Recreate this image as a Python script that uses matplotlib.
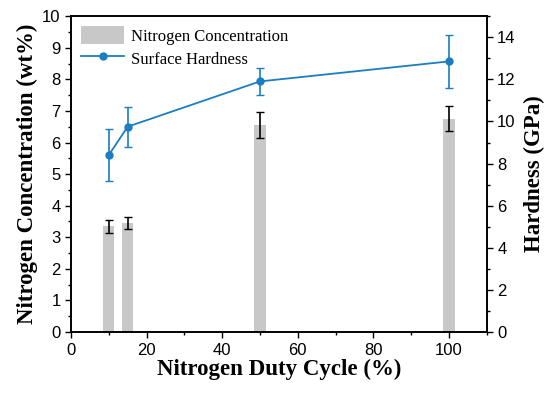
import matplotlib.pyplot as plt
from matplotlib.ticker import MultipleLocator
from matplotlib.lines import Line2D

duty = [10, 15, 50, 100]
conc = [3.35, 3.45, 6.55, 6.75]
conc_err = [0.2, 0.2, 0.4, 0.4]
hard = [8.4, 9.75, 11.9, 12.85]
hard_err = [1.25, 0.95, 0.65, 1.25]

serif = 'Liberation Serif'
sans = 'Liberation Sans'
blue = '#1a7ec0'

fig = plt.figure(figsize=(5.5, 3.93), dpi=100)
ax = fig.add_axes([0.129, 0.155, 0.756, 0.804])
ax.bar(duty, conc, width=3, color='#c8c8c8', label='Nitrogen Concentration', zorder=1)
ax.errorbar(duty, conc, yerr=conc_err, fmt='none', ecolor='black', capsize=3, elinewidth=1.2, zorder=2)
ax.set_xlim(0, 110)
ax.set_ylim(0, 10)
ax.xaxis.set_major_locator(MultipleLocator(20))
ax.xaxis.set_minor_locator(MultipleLocator(10))
ax.yaxis.set_major_locator(MultipleLocator(1))
ax.yaxis.set_minor_locator(MultipleLocator(0.5))
ax.set_xlabel('Nitrogen Duty Cycle (%)', fontfamily=serif, fontweight='bold', fontsize=16.5, labelpad=1)
ax.set_ylabel('Nitrogen Concentration (wt%)', fontfamily=serif, fontweight='bold', fontsize=16.5, labelpad=3)

ax2 = ax.twinx()
ax2.errorbar(duty, hard, yerr=hard_err, color=blue, marker='o', markersize=5, lw=1.3,
             capsize=3, elinewidth=1.2, zorder=3)
ax2.set_ylim(0, 15)
ax2.yaxis.set_major_locator(MultipleLocator(2))
ax2.yaxis.set_minor_locator(MultipleLocator(1))
ax2.set_ylabel('Hardness (GPa)', fontfamily=serif, fontweight='bold', fontsize=16.5, labelpad=6)

for a in (ax, ax2):
    a.tick_params(which='both', direction='out', labelsize=12, width=1)
    a.tick_params(which='major', length=4)
    a.tick_params(which='minor', length=2.5)
    for lab in a.get_xticklabels() + a.get_yticklabels():
        lab.set_fontfamily(sans)
    for s in a.spines.values():
        s.set_linewidth(1.2)

h1, l1 = ax.get_legend_handles_labels()
h2 = [Line2D([], [], color=blue, marker='o', markersize=5, lw=1.3)]
ax.legend(h1 + h2, l1 + ['Surface Hardness'], loc='upper left', frameon=False,
          prop={'family': serif, 'size': 12}, handlelength=2.6, handleheight=1.3,
          borderaxespad=0.2, labelspacing=0.25, handletextpad=0.4)

fig.savefig('out.png', dpi=100)
